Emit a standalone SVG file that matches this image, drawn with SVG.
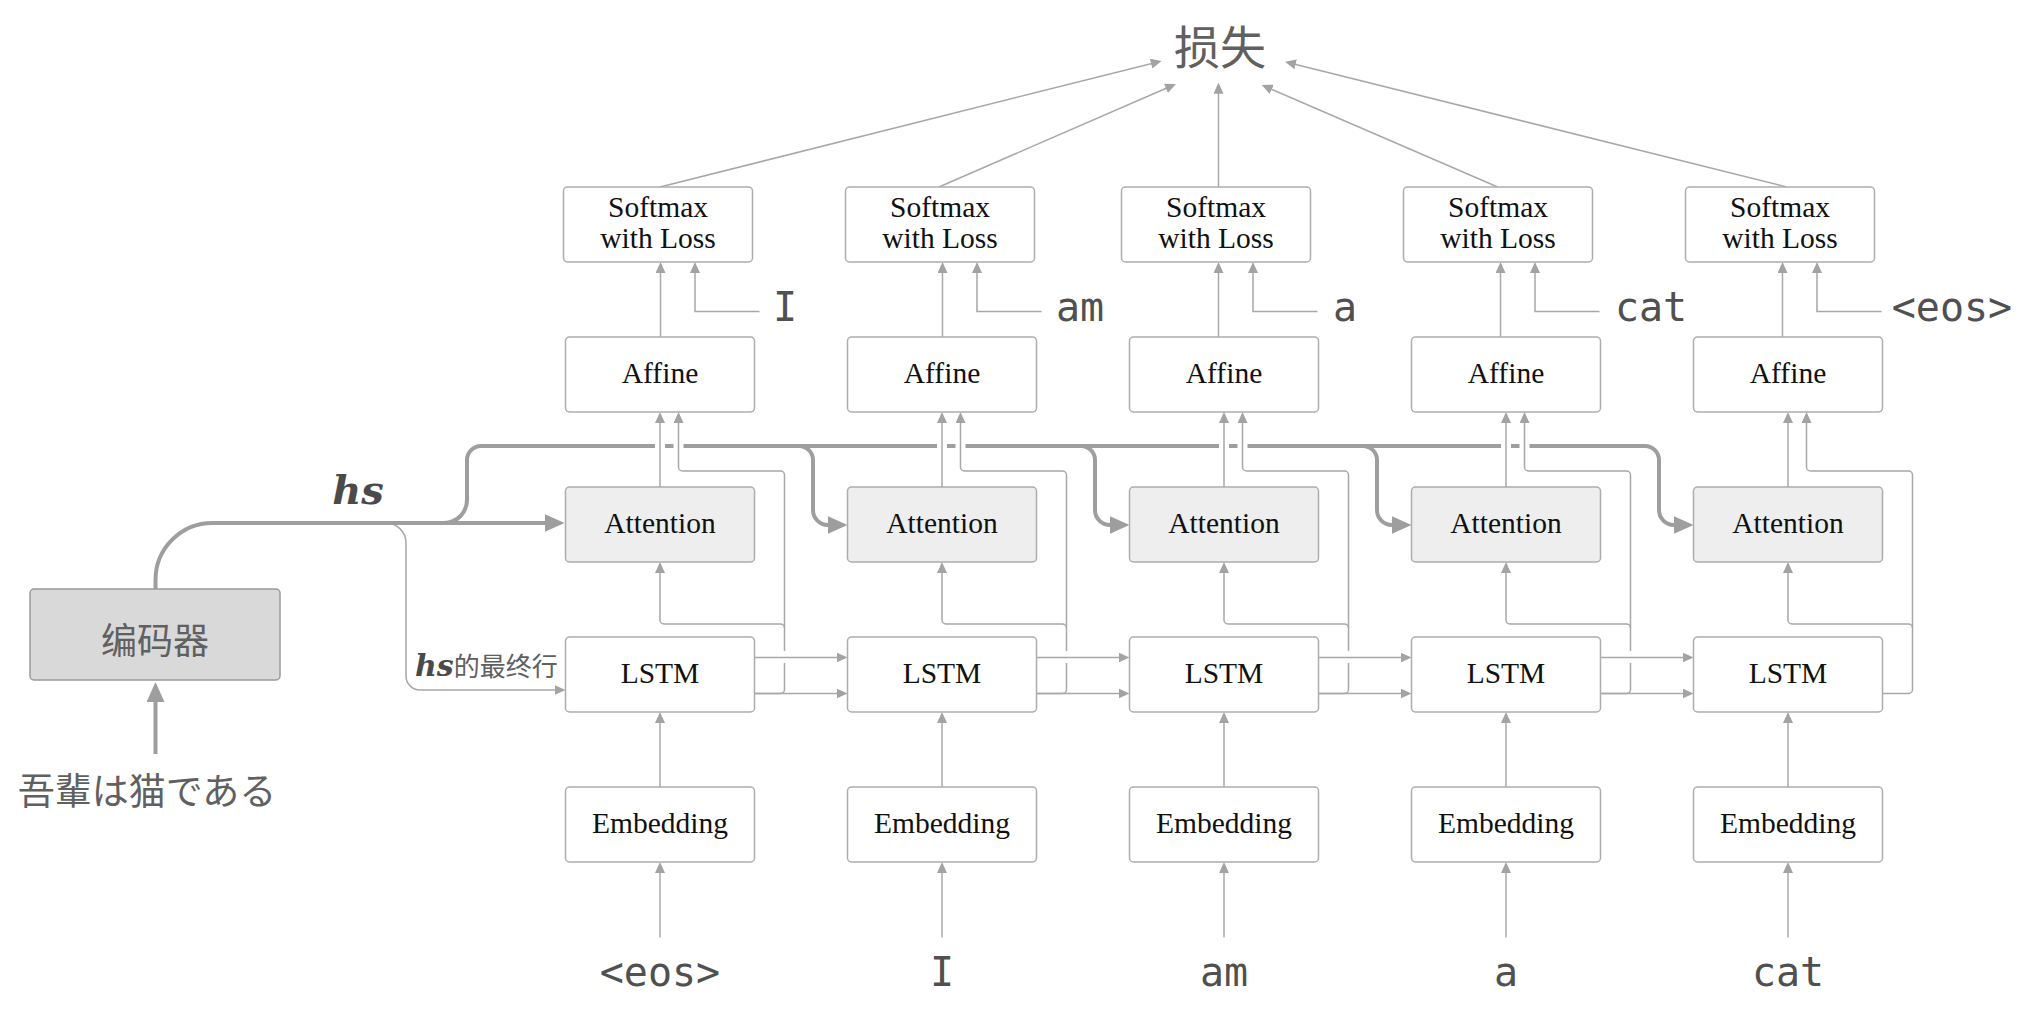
<svg xmlns="http://www.w3.org/2000/svg" width="2042" height="1030" viewBox="0 0 2042 1030">
<style>
.box{fill:#fff;stroke:#adadad;stroke-width:1.5}
.att{fill:#eeeeee}
.enc{fill:#d9d9d9;stroke:#9a9a9a;stroke-width:1.5}
.lbl{font-family:"Liberation Serif","Times New Roman",serif;font-size:29.5px;fill:#111;text-anchor:middle}
.mono{font-family:"DejaVu Sans Mono","Liberation Mono",monospace;font-size:40px;fill:#505050;text-anchor:middle}
.cjk{font-family:"Noto Sans CJK SC","Noto Sans",sans-serif;fill:#606060}
.jp{font-family:"Noto Sans CJK JP","Noto Sans",sans-serif;fill:#606060}
.thin{fill:none;stroke:#a8a8a8;stroke-width:1.5}
.ar{marker-end:url(#ah)}
.thick{fill:none;stroke:#9e9e9e;stroke-width:4;marker-end:url(#AH)}
.math{font-family:"DejaVu Serif",serif;font-weight:bold;font-style:italic;fill:#4a4a4a}
.gap{fill:#fff}
</style>
<defs>
<marker id="ah" viewBox="0 0 11 10" refX="6" refY="5" markerWidth="11" markerHeight="10" markerUnits="userSpaceOnUse" orient="auto"><path d="M0,0L11,5L0,10z" fill="#a3a3a3"/></marker>
<marker id="AH" viewBox="0 0 20 18" refX="10" refY="9" markerWidth="20" markerHeight="18" markerUnits="userSpaceOnUse" orient="auto"><path d="M0,0L20,9L0,18z" fill="#9e9e9e"/></marker>
</defs>

<g id="connectors">
<path class="thin ar" d="M386,523 A20,20 0 0 1 406,543 V676 A14,14 0 0 0 420,690 H560.5"/>
<path class="thick" d="M155.5,754 V692"/>
<path class="thick" d="M155.5,589 V580 A57,57 0 0 1 212.5,523 H554.5"/>
<path class="thick" d="M444,523 A23,23 0 0 0 467,500 V460 A14,14 0 0 1 481,446 H1645 A14,14 0 0 1 1659,460 V510 A15,15 0 0 0 1674,525 H1683.5"/>
<path class="thick" d="M799,446 A14,14 0 0 1 813,460 V510 A15,15 0 0 0 828,525 H837.5"/>
<path class="thick" d="M1081,446 A14,14 0 0 1 1095,460 V510 A15,15 0 0 0 1110,525 H1119.5"/>
<path class="thick" d="M1363,446 A14,14 0 0 1 1377,460 V510 A15,15 0 0 0 1392,525 H1401.5"/>
<rect class="gap" x="655" y="442" width="10" height="8"/>
<rect class="gap" x="673.5" y="442" width="10" height="8"/>
<rect class="gap" x="937" y="442" width="10" height="8"/>
<rect class="gap" x="955.5" y="442" width="10" height="8"/>
<rect class="gap" x="1219" y="442" width="10" height="8"/>
<rect class="gap" x="1237.5" y="442" width="10" height="8"/>
<rect class="gap" x="1501" y="442" width="10" height="8"/>
<rect class="gap" x="1519.5" y="442" width="10" height="8"/>

<path class="thin ar" d="M660,187 L1156.85,62.22"/>
<path class="thin ar" d="M939,187 L1171.4,86"/>
<path class="thin ar" d="M1218.5,187 V87.7"/>
<path class="thin ar" d="M1497.7,187 L1266.3,87"/>
<path class="thin ar" d="M1786.7,187 L1289.85,62.9"/>

<path class="thin ar" d="M660,937.5 V867"/>
<path class="thin ar" d="M660,787 V717"/>
<path class="thin ar" d="M660,487 V417"/>
<path class="thin ar" d="M660.5,337 V267"/>
<path class="thin ar" d="M759.5,311.5 H695 V267"/>
<path class="thin ar" d="M754.5,693.5 H780.5 A4,4 0 0 0 784.5,689.5 V628 A4,4 0 0 0 780.5,624 H664 A4,4 0 0 1 660,620 V567"/>
<path class="thin ar" d="M784.5,628 V475 A4,4 0 0 0 780.5,471 H682.5 A4,4 0 0 1 678.5,467 V417"/>
<path class="thin ar" d="M754.5,693.5 H842.5"/>
<rect class="gap" x="780.5" y="651" width="8" height="12"/>
<path class="thin ar" d="M754.5,657.5 H842.5"/>

<path class="thin ar" d="M942,937.5 V867"/>
<path class="thin ar" d="M942,787 V717"/>
<path class="thin ar" d="M942,487 V417"/>
<path class="thin ar" d="M942.5,337 V267"/>
<path class="thin ar" d="M1041.5,311.5 H977 V267"/>
<path class="thin ar" d="M1036.5,693.5 H1062.5 A4,4 0 0 0 1066.5,689.5 V628 A4,4 0 0 0 1062.5,624 H946 A4,4 0 0 1 942,620 V567"/>
<path class="thin ar" d="M1066.5,628 V475 A4,4 0 0 0 1062.5,471 H964.5 A4,4 0 0 1 960.5,467 V417"/>
<path class="thin ar" d="M1036.5,693.5 H1124.5"/>
<rect class="gap" x="1062.5" y="651" width="8" height="12"/>
<path class="thin ar" d="M1036.5,657.5 H1124.5"/>

<path class="thin ar" d="M1224,937.5 V867"/>
<path class="thin ar" d="M1224,787 V717"/>
<path class="thin ar" d="M1224,487 V417"/>
<path class="thin ar" d="M1218.5,337 V267"/>
<path class="thin ar" d="M1317.5,311.5 H1253 V267"/>
<path class="thin ar" d="M1318.5,693.5 H1344.5 A4,4 0 0 0 1348.5,689.5 V628 A4,4 0 0 0 1344.5,624 H1228 A4,4 0 0 1 1224,620 V567"/>
<path class="thin ar" d="M1348.5,628 V475 A4,4 0 0 0 1344.5,471 H1246.5 A4,4 0 0 1 1242.5,467 V417"/>
<path class="thin ar" d="M1318.5,693.5 H1406.5"/>
<rect class="gap" x="1344.5" y="651" width="8" height="12"/>
<path class="thin ar" d="M1318.5,657.5 H1406.5"/>

<path class="thin ar" d="M1506,937.5 V867"/>
<path class="thin ar" d="M1506,787 V717"/>
<path class="thin ar" d="M1506,487 V417"/>
<path class="thin ar" d="M1500.5,337 V267"/>
<path class="thin ar" d="M1599.5,311.5 H1535 V267"/>
<path class="thin ar" d="M1600.5,693.5 H1626.5 A4,4 0 0 0 1630.5,689.5 V628 A4,4 0 0 0 1626.5,624 H1510 A4,4 0 0 1 1506,620 V567"/>
<path class="thin ar" d="M1630.5,628 V475 A4,4 0 0 0 1626.5,471 H1528.5 A4,4 0 0 1 1524.5,467 V417"/>
<path class="thin ar" d="M1600.5,693.5 H1688.5"/>
<rect class="gap" x="1626.5" y="651" width="8" height="12"/>
<path class="thin ar" d="M1600.5,657.5 H1688.5"/>

<path class="thin ar" d="M1788,937.5 V867"/>
<path class="thin ar" d="M1788,787 V717"/>
<path class="thin ar" d="M1788,487 V417"/>
<path class="thin ar" d="M1782.5,337 V267"/>
<path class="thin ar" d="M1881.5,311.5 H1817 V267"/>
<path class="thin ar" d="M1882.5,693.5 H1908.5 A4,4 0 0 0 1912.5,689.5 V628 A4,4 0 0 0 1908.5,624 H1792 A4,4 0 0 1 1788,620 V567"/>
<path class="thin ar" d="M1912.5,628 V475 A4,4 0 0 0 1908.5,471 H1810.5 A4,4 0 0 1 1806.5,467 V417"/>
</g>

<g id="loss"><text class="cjk" x="1220" y="64" font-size="46" text-anchor="middle">损失</text></g>
<g id="encoder"><rect class="enc" x="30" y="589" width="250" height="91" rx="4"/><text class="cjk" x="155" y="654" font-size="36" text-anchor="middle">编码器</text></g>
<g id="source"><text class="jp" x="147" y="805" font-size="37" text-anchor="middle">吾輩は猫である</text></g>
<g id="label-hs"><text class="math" x="358" y="504" font-size="40" text-anchor="middle">hs</text></g>
<g id="label-hs-last"><text x="415" y="676"><tspan class="math" font-size="30">hs</tspan><tspan class="cjk" font-size="26">的最终行</tspan></text></g>

<g id="softmax0"><rect class="box" x="563.5" y="187" width="189" height="75" rx="4"/><text class="lbl" x="658" y="217.3">Softmax</text><text class="lbl" x="658" y="248.3">with Loss</text></g>
<g id="softmax1"><rect class="box" x="845.5" y="187" width="189" height="75" rx="4"/><text class="lbl" x="940" y="217.3">Softmax</text><text class="lbl" x="940" y="248.3">with Loss</text></g>
<g id="softmax2"><rect class="box" x="1121.5" y="187" width="189" height="75" rx="4"/><text class="lbl" x="1216" y="217.3">Softmax</text><text class="lbl" x="1216" y="248.3">with Loss</text></g>
<g id="softmax3"><rect class="box" x="1403.5" y="187" width="189" height="75" rx="4"/><text class="lbl" x="1498" y="217.3">Softmax</text><text class="lbl" x="1498" y="248.3">with Loss</text></g>
<g id="softmax4"><rect class="box" x="1685.5" y="187" width="189" height="75" rx="4"/><text class="lbl" x="1780" y="217.3">Softmax</text><text class="lbl" x="1780" y="248.3">with Loss</text></g>

<g id="target0"><text class="mono" x="785" y="321">I</text></g>
<g id="target1"><text class="mono" x="1080" y="321">am</text></g>
<g id="target2"><text class="mono" x="1345" y="321">a</text></g>
<g id="target3"><text class="mono" x="1651" y="321">cat</text></g>
<g id="target4"><text class="mono" x="1952" y="321">&lt;eos&gt;</text></g>

<g id="affine0"><rect class="box" x="565.5" y="337" width="189" height="75" rx="4"/><text class="lbl" x="660" y="383">Affine</text></g>
<g id="affine1"><rect class="box" x="847.5" y="337" width="189" height="75" rx="4"/><text class="lbl" x="942" y="383">Affine</text></g>
<g id="affine2"><rect class="box" x="1129.5" y="337" width="189" height="75" rx="4"/><text class="lbl" x="1224" y="383">Affine</text></g>
<g id="affine3"><rect class="box" x="1411.5" y="337" width="189" height="75" rx="4"/><text class="lbl" x="1506" y="383">Affine</text></g>
<g id="affine4"><rect class="box" x="1693.5" y="337" width="189" height="75" rx="4"/><text class="lbl" x="1788" y="383">Affine</text></g>

<g id="attention0"><rect class="box att" x="565.5" y="487" width="189" height="75" rx="4"/><text class="lbl" x="660" y="533.3">Attention</text></g>
<g id="attention1"><rect class="box att" x="847.5" y="487" width="189" height="75" rx="4"/><text class="lbl" x="942" y="533.3">Attention</text></g>
<g id="attention2"><rect class="box att" x="1129.5" y="487" width="189" height="75" rx="4"/><text class="lbl" x="1224" y="533.3">Attention</text></g>
<g id="attention3"><rect class="box att" x="1411.5" y="487" width="189" height="75" rx="4"/><text class="lbl" x="1506" y="533.3">Attention</text></g>
<g id="attention4"><rect class="box att" x="1693.5" y="487" width="189" height="75" rx="4"/><text class="lbl" x="1788" y="533.3">Attention</text></g>

<g id="lstm0"><rect class="box" x="565.5" y="637" width="189" height="75" rx="4"/><text class="lbl" x="660" y="683.3">LSTM</text></g>
<g id="lstm1"><rect class="box" x="847.5" y="637" width="189" height="75" rx="4"/><text class="lbl" x="942" y="683.3">LSTM</text></g>
<g id="lstm2"><rect class="box" x="1129.5" y="637" width="189" height="75" rx="4"/><text class="lbl" x="1224" y="683.3">LSTM</text></g>
<g id="lstm3"><rect class="box" x="1411.5" y="637" width="189" height="75" rx="4"/><text class="lbl" x="1506" y="683.3">LSTM</text></g>
<g id="lstm4"><rect class="box" x="1693.5" y="637" width="189" height="75" rx="4"/><text class="lbl" x="1788" y="683.3">LSTM</text></g>

<g id="embedding0"><rect class="box" x="565.5" y="787" width="189" height="75" rx="4"/><text class="lbl" x="660" y="833.3">Embedding</text></g>
<g id="embedding1"><rect class="box" x="847.5" y="787" width="189" height="75" rx="4"/><text class="lbl" x="942" y="833.3">Embedding</text></g>
<g id="embedding2"><rect class="box" x="1129.5" y="787" width="189" height="75" rx="4"/><text class="lbl" x="1224" y="833.3">Embedding</text></g>
<g id="embedding3"><rect class="box" x="1411.5" y="787" width="189" height="75" rx="4"/><text class="lbl" x="1506" y="833.3">Embedding</text></g>
<g id="embedding4"><rect class="box" x="1693.5" y="787" width="189" height="75" rx="4"/><text class="lbl" x="1788" y="833.3">Embedding</text></g>

<g id="input0"><text class="mono" x="660" y="986">&lt;eos&gt;</text></g>
<g id="input1"><text class="mono" x="942" y="986">I</text></g>
<g id="input2"><text class="mono" x="1224" y="986">am</text></g>
<g id="input3"><text class="mono" x="1506" y="986">a</text></g>
<g id="input4"><text class="mono" x="1788" y="986">cat</text></g>
</svg>
